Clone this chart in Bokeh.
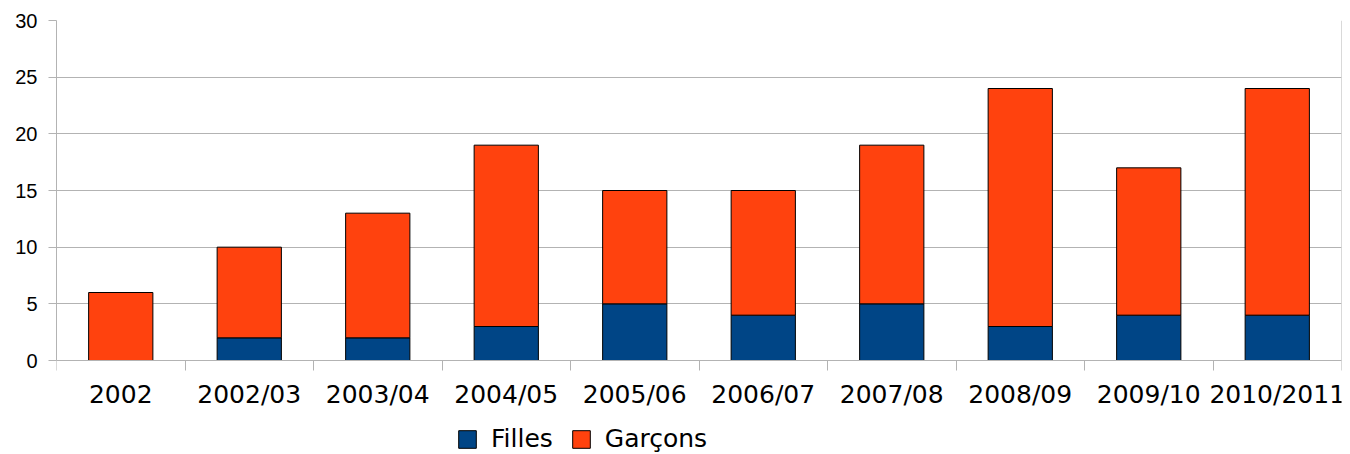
from bokeh.plotting import figure
from bokeh.models import FixedTicker, Range1d, ColumnDataSource, Legend, LinearAxis
from bokeh.embed import file_html
from bokeh.resources import INLINE

categories = ["2002", "2002/03", "2003/04", "2004/05", "2005/06",
              "2006/07", "2007/08", "2008/09", "2009/10", "2010/2011"]
filles = [0, 2, 2, 3, 5, 4, 5, 3, 4, 4]
garcons = [6, 8, 11, 16, 10, 11, 14, 21, 13, 20]
series = ["Filles", "Garçons"]
colors = ["#004586", "#ff420e"]
y_ticks = [0, 5, 10, 15, 20, 25, 30]

centers = [i + 0.5 for i in range(len(categories))]
bounds = [i for i in range(len(categories) + 1)]

src = ColumnDataSource(dict(x=centers, Filles=filles, Garçons=garcons))

GRID = "#b3b3b3"

# layout in pixels: 340 px for the 0..30 value span, frame continues 94 px below 0
PX_VALUE = 340
PX_BELOW = 94
YMAX = 30
ymin = -PX_BELOW * YMAX / PX_VALUE

p = figure(frame_width=1285, frame_height=PX_VALUE + PX_BELOW, output_backend="svg",
           toolbar_location=None, x_axis_location=None,
           x_range=Range1d(0, len(categories)), y_range=Range1d(ymin, YMAX),
           min_border_left=56, min_border_right=8, min_border_top=20, min_border_bottom=0)

rs = p.vbar_stack(series, x="x", width=0.5, source=src, fill_color=colors,
                  line_color="black", line_width=1)

p.outline_line_color = None
p.xgrid.grid_line_color = None
p.ygrid.grid_line_color = GRID
p.ygrid.ticker = FixedTicker(ticks=y_ticks)

# y axis (left)
p.yaxis.ticker = FixedTicker(ticks=y_ticks)
p.yaxis.bounds = (0, YMAX)
p.yaxis.axis_line_color = GRID
p.yaxis.major_tick_line_color = GRID
p.yaxis.major_tick_out = 8
p.yaxis.major_tick_in = 0
p.yaxis.minor_tick_line_color = None
p.yaxis.major_label_standoff = 11
p.yaxis.major_label_text_font = "Liberation Sans"
p.yaxis.major_label_text_font_size = "20px"
p.yaxis.major_label_text_color = "black"

# right frame border
rax = LinearAxis(fixed_location=len(categories), ticker=FixedTicker(ticks=[]),
                 bounds=(0, YMAX), axis_line_color=GRID,
                 major_tick_line_color=None, minor_tick_line_color=None)
p.add_layout(rax, "right")

# x axis fixed at y = 0
xax = LinearAxis(fixed_location=0, ticker=FixedTicker(ticks=centers, minor_ticks=bounds))
xax.major_label_overrides = {c: lab for c, lab in zip(centers, categories)}
xax.axis_line_color = GRID
xax.major_tick_line_color = None
xax.major_tick_out = 0
xax.major_tick_in = 0
xax.minor_tick_line_color = GRID
xax.minor_tick_out = 10
xax.minor_tick_in = 0
xax.major_label_standoff = 9
xax.major_label_text_font = "DejaVu Sans"
xax.major_label_text_font_size = "25px"
xax.major_label_text_color = "black"
p.add_layout(xax, "below")

legend = Legend(items=[(s, [r]) for s, r in zip(series, rs)],
                orientation="horizontal", location=(400, 1),
                glyph_width=22, glyph_height=22, label_standoff=13, spacing=17,
                padding=0, margin=0, border_line_color=None,
                background_fill_alpha=0,
                label_text_font="DejaVu Sans", label_text_font_size="25px",
                label_text_color="black")
p.add_layout(legend, "center")

open("out.html", "w").write(file_html(p, INLINE))
